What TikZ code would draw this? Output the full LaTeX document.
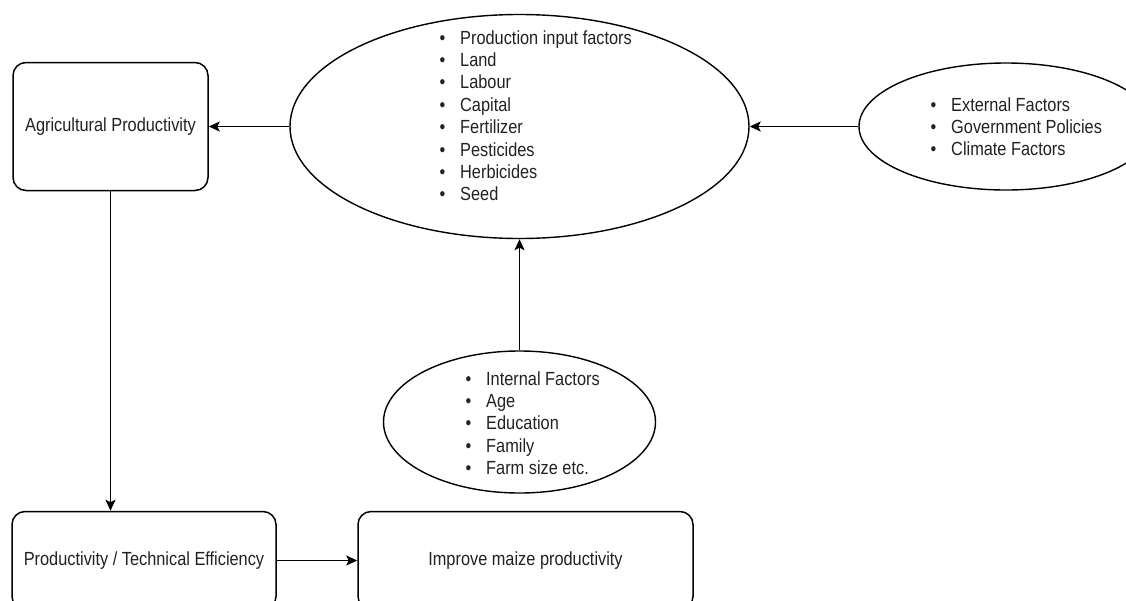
\documentclass[tikz,border=0pt]{standalone}
\usepackage{fontspec}
\setmainfont{Liberation Sans}[FakeStretch=0.86]
\usetikzlibrary{shapes.geometric,arrows.meta}
\definecolor{txt}{HTML}{222222}
\newcommand\bu{\makebox[20.5pt][l]{\textbullet}}
\tikzset{
  lbl/.style={text=txt, font=\fontsize{19}{22.4}\selectfont},
  box/.style={draw, rectangle, rounded corners=13pt, inner sep=0pt, line width=1.5pt, lbl},
  oval/.style={draw, ellipse, inner sep=0pt, line width=1.4pt},
  blist/.style={anchor=base west, inner sep=0pt, lbl},
  arr/.style={-{Stealth[length=11pt,width=10pt,inset=2.5pt]}, line width=1.5pt}
}
\begin{document}
\begin{tikzpicture}[x=1pt,y=-1pt]
\useasboundingbox (0,0) rectangle (1126,600);
\fill[white] (0,0) rectangle (1126,600);
% boxes
\node[box, minimum width=195pt, minimum height=128pt] (agri) at (110.5,126.5) {Agricultural Productivity};
\node[box, minimum width=264pt, minimum height=98pt] (prod) at (144,560.5) {Productivity / Technical Efficiency};
\node[box, minimum width=335pt, minimum height=98pt] (improve) at (525.5,560.5) {Improve maize productivity};
% ellipses
\node[oval, minimum width=459pt, minimum height=224pt] (inputs) at (519.5,126.5) {};
\node[oval, minimum width=294pt, minimum height=127pt] (ext) at (1006,126.5) {};
\node[oval, minimum width=272pt, minimum height=142pt] (internal) at (519.5,422) {};
% lists
\node[blist] (inputsL) at (439.5,44) {\begin{tabular}[t]{@{}l@{}}
\bu Production input factors\\
\bu Land\\
\bu Labour\\
\bu Capital\\
\bu Fertilizer\\
\bu Pesticides\\
\bu Herbicides\\
\bu Seed
\end{tabular}};
\node[blist] (extL) at (930.5,111) {\begin{tabular}[t]{@{}l@{}}
\bu External Factors\\
\bu Government Policies\\
\bu Climate Factors
\end{tabular}};
\node[blist] (internalL) at (465.5,385) {\begin{tabular}[t]{@{}l@{}}
\bu Internal Factors\\
\bu Age\\
\bu Education\\
\bu Family\\
\bu Farm size etc.
\end{tabular}};
% connectors
\draw[arr] (ext.west) -- (inputs.east);
\draw[arr] (inputs.west) -- (agri.east);
\draw[arr] (internal.north) -- (inputs.south);
\draw[arr] (agri.south) -- (agri.south |- prod.north);
\draw[arr] (prod.east) -- (improve.west);
\end{tikzpicture}
\end{document}
